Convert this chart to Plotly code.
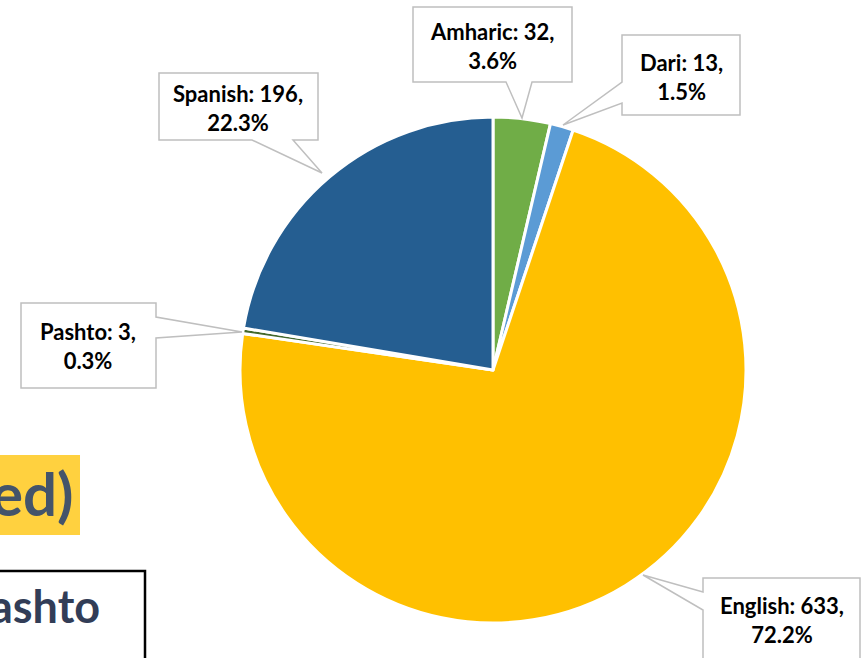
import plotly.graph_objects as go

languages = ["Amharic", "Dari", "English", "Pashto", "Spanish"]
counts = [32, 13, 633, 3, 196]
colors = ["#70AD47", "#5B9BD5", "#FFC000", "#43682B", "#255E91"]

total = sum(counts)
labels_txt = [f"<b>{n}: {v},<br>{v / total * 100:.1f}%</b>" for n, v in zip(languages, counts)]

W, H = 868, 658
cx, cy, r = 493, 370, 253

fig = go.Figure()
fig.add_trace(go.Pie(
    labels=languages, values=counts, sort=False, direction="clockwise", rotation=0,
    marker=dict(colors=colors, line=dict(color="white", width=3)),
    textinfo="none", hoverinfo="label+value+percent", showlegend=False,
    domain=dict(x=[(cx - r) / W, (cx + r) / W], y=[1 - (cy + r) / H, 1 - (cy - r) / H]),
))

# callout geometry (pixel space): box x0,x1,y0,y1, pointer side, base a,b, tip
callouts = [
    dict(box=(413, 572, 7, 82), side="bottom", base=(506, 532), tip=(522, 118), text=(492, 46)),
    dict(box=(622, 740, 35, 115), side="left", base=(82, 103), tip=(563, 125), text=(681, 77)),
    dict(box=(159, 318, 73, 140), side="bottom", base=(252, 293), tip=(322, 173), text=(238, 108)),
    dict(box=(21, 156, 303, 388), side="right", base=(317, 338), tip=(242, 332), text=(88, 346)),
    dict(box=(703, 860, 578, 680), side="left", base=(592, 610), tip=(643, 575), text=(782, 620)),
]
order = [0, 1, 4, 3, 2]  # Amharic, Dari, Spanish, Pashto, English
shapes = []
annotations = []
for c, idx in zip(callouts, order):
    x0, x1, y0, y1 = c["box"]
    a, b = c["base"]
    tx, ty = c["tip"]
    if c["side"] == "bottom":
        pts = [(x0, y0), (x1, y0), (x1, y1), (b, y1), (tx, ty), (a, y1), (x0, y1)]
    elif c["side"] == "left":
        pts = [(x0, y0), (x1, y0), (x1, y1), (x0, y1), (x0, b), (tx, ty), (x0, a)]
    else:
        pts = [(x0, y0), (x1, y0), (x1, a), (tx, ty), (x1, b), (x1, y1), (x0, y1)]
    path = "M " + " L ".join(f"{px},{py}" for px, py in pts) + " Z"
    shapes.append(dict(type="path", path=path, xref="x", yref="y",
                       line=dict(color="#BFBFBF", width=1.5), fillcolor="white", layer="above"))
    annotations.append(dict(x=c["text"][0], y=c["text"][1], xref="x", yref="y",
                            text=labels_txt[idx], showarrow=False,
                            font=dict(family="Lato", size=22, color="#000000"),
                            xanchor="center", yanchor="middle"))

# cropped slide elements on the left
shapes.append(dict(type="rect", xref="x", yref="y", x0=-10, x1=80, y0=455, y1=535,
                   fillcolor="#FFD13F", line=dict(width=0), layer="below"))
annotations.append(dict(x=76, y=493, xref="x", yref="y", text="<b>ed)</b>", showarrow=False,
                        xanchor="right", yanchor="middle",
                        font=dict(family="Lato", size=60, color="#44546A")))
shapes.append(dict(type="rect", xref="x", yref="y", x0=-10, x1=145, y0=571, y1=700,
                   fillcolor="rgba(0,0,0,0)", line=dict(color="#000000", width=2.5), layer="above"))
annotations.append(dict(x=102, y=606, xref="x", yref="y", text="<b>ashto</b>", showarrow=False,
                        xanchor="right", yanchor="middle",
                        font=dict(family="Lato", size=45, color="#323D57")))

fig.update_layout(
    width=W, height=H, margin=dict(l=0, r=0, t=0, b=0),
    paper_bgcolor="white", plot_bgcolor="rgba(0,0,0,0)",
    xaxis=dict(range=[0, W], visible=False, fixedrange=True, domain=[0, 1]),
    yaxis=dict(range=[H, 0], visible=False, fixedrange=True, domain=[0, 1]),
    shapes=shapes, annotations=annotations,
)
fig.write_html("out.html", config={"displayModeBar": False},
               post_script="document.body.style.margin='0';document.body.style.overflow='hidden';")
